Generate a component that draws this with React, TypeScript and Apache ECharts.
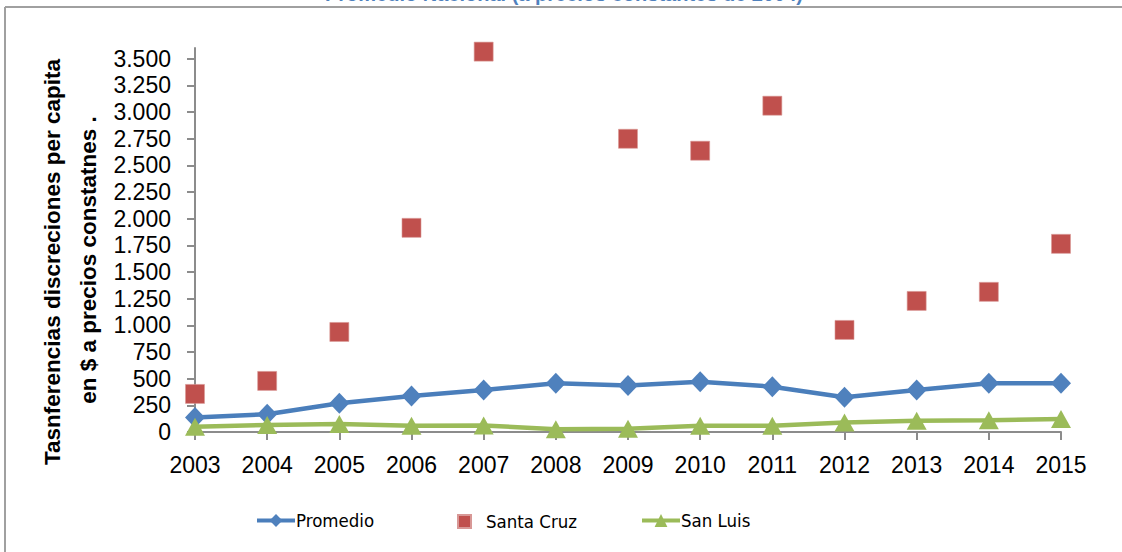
import { useEffect, useRef } from 'react';
import * as echarts from 'echarts';

const years = ['2003', '2004', '2005', '2006', '2007', '2008', '2009', '2010', '2011', '2012', '2013', '2014', '2015'];
const promedio = [137, 166, 269, 338, 394, 457, 435, 472, 425, 325, 394, 457, 457];
const santaCruz: (number | null)[] = [357, 479, 938, 1914, 3566, null, 2749, 2637, 3059, 957, 1229, 1314, 1764];
const sanLuis = [50, 66, 75, 59, 62, 25, 30, 59, 59, 88, 106, 110, 122];
const yTicks = [0, 250, 500, 750, 1000, 1250, 1500, 1750, 2000, 2250, 2500, 2750, 3000, 3250, 3500];
const yMax = 3600;

const seriesNames = ['Promedio', 'Santa Cruz', 'San Luis'];
const titleMain = 'Promedio Nacional ';
const titleSub = '(a precios constantes de 2004)';
const yNameLine1 = 'Tasnferencias discreciones per capita';
const yNameLine2 = 'en $ a precios constatnes .';

const FONT = "'Liberation Sans', Arial, sans-serif";
const NARROW = "'Liberation Sans Narrow', 'DejaVu Sans Condensed', 'Liberation Sans', sans-serif";
const BLUE = '#4F81BD';
const RED = '#C0504D';
const GREEN = '#9BBB59';
const AXIS = '#8c8c8c';

function fmt(v: number): string {
  return String(v).replace(/\B(?=(\d{3})+(?!\d))/g, '.');
}

export default function App() {
  const ref = useRef<HTMLDivElement>(null);
  useEffect(() => {
    const chart = echarts.init(ref.current!, null, { renderer: 'svg' });
    const legendText = { color: '#000', fontSize: 18.5, fontFamily: NARROW };
    const option: any = {
      animation: false,
      backgroundColor: '#ffffff',
      textStyle: { fontFamily: FONT },
      grid: { left: 195, right: 61, top: 48, bottom: 120, containLabel: false },
      xAxis: {
        type: 'category',
        data: years,
        boundaryGap: false,
        axisLine: { lineStyle: { color: AXIS, width: 2 } },
        axisTick: { show: true, alignWithLabel: true, inside: false, length: 8, lineStyle: { color: AXIS, width: 2 } },
        axisLabel: { color: '#000', fontSize: 23, fontFamily: FONT, margin: 21 },
        splitLine: { show: false },
      },
      yAxis: {
        type: 'value',
        min: 0,
        max: yMax,
        axisLine: { show: true, lineStyle: { color: AXIS, width: 2 } },
        axisTick: { show: true, length: 8, lineStyle: { color: AXIS, width: 2 }, customValues: yTicks },
        axisLabel: {
          color: '#000',
          fontSize: 23,
          fontFamily: FONT,
          margin: 24,
          customValues: yTicks,
          formatter: (v: number) => fmt(v),
        },
        splitLine: { show: false },
      },
      legend: [
        {
          left: 250,
          top: 506,
          data: [seriesNames[0]],
          itemWidth: 38,
          itemHeight: 16,
          lineStyle: { width: 4 },
          textStyle: { ...legendText, padding: [0, 0, 0, -4] },
        },
        {
          left: 452,
          top: 507,
          data: [seriesNames[1]],
          itemWidth: 13,
          itemHeight: 13,
          itemStyle: { opacity: 1 },
          textStyle: { ...legendText, padding: [0, 0, 0, 10] },
        },
        {
          left: 635,
          top: 506,
          data: [seriesNames[2]],
          itemWidth: 38,
          itemHeight: 16,
          lineStyle: { width: 4 },
          textStyle: { ...legendText, padding: [0, 0, 0, -4] },
        },
      ],
      series: [
        {
          name: seriesNames[0],
          type: 'line',
          data: promedio,
          symbol: 'diamond',
          symbolSize: [20, 21],
          lineStyle: { color: '#4A7EBB', width: 4.5 },
          itemStyle: { color: BLUE },
        },
        {
          name: seriesNames[1],
          type: 'scatter',
          data: santaCruz.map((v) => (v === null ? '-' : v)),
          symbol: 'rect',
          symbolSize: 19,
          itemStyle: { color: RED, opacity: 1, borderColor: '#d89896', borderWidth: 0.6 },
        },
        {
          name: seriesNames[2],
          type: 'line',
          data: sanLuis,
          symbol: 'triangle',
          symbolSize: [20, 18],
          lineStyle: { color: GREEN, width: 4.5 },
          itemStyle: { color: GREEN },
        },
      ],
      graphic: [
        {
          type: 'line',
          shape: { x1: 5, y1: 7, x2: 1122, y2: 7 },
          style: { stroke: '#a0a0a0', lineWidth: 2 },
          silent: true,
        },
        {
          type: 'line',
          shape: { x1: 5, y1: 7, x2: 5, y2: 552 },
          style: { stroke: '#a0a0a0', lineWidth: 2 },
          silent: true,
        },
        {
          type: 'text',
          x: 325,
          y: 3.8,
          style: {
            text: '{a|' + titleMain + '}{b|' + titleSub + '}',
            fontFamily: FONT,
            fontSize: 20,
            fontWeight: 'bold',
            verticalAlign: 'bottom',
            align: 'left',
            rich: {
              a: { fontFamily: FONT, fontSize: 20, fontWeight: 'bold', fill: '#4F81BD' },
              b: { fontFamily: FONT, fontSize: 20, fontWeight: 'bold', fill: '#4F81BD' },
            },
          },
          silent: true,
        },
        {
          type: 'text',
          x: 52,
          y: 262,
          rotation: Math.PI / 2,
          style: {
            text: yNameLine1,
            fontFamily: FONT,
            fontSize: 22.5,
            fontWeight: 'bold',
            fill: '#000',
            align: 'center',
            verticalAlign: 'middle',
          },
          silent: true,
        },
        {
          type: 'text',
          x: 88,
          y: 260,
          rotation: Math.PI / 2,
          style: {
            text: yNameLine2,
            fontFamily: FONT,
            fontSize: 22.5,
            fontWeight: 'bold',
            fill: '#000',
            align: 'center',
            verticalAlign: 'middle',
          },
          silent: true,
        },
      ],
    };
    chart.setOption(option);
    return () => chart.dispose();
  }, []);
  return (
    <div
      ref={ref}
      style={{ position: 'absolute', left: 0, top: 0, width: 1122, height: 552, background: '#fff' }}
    />
  );
}
